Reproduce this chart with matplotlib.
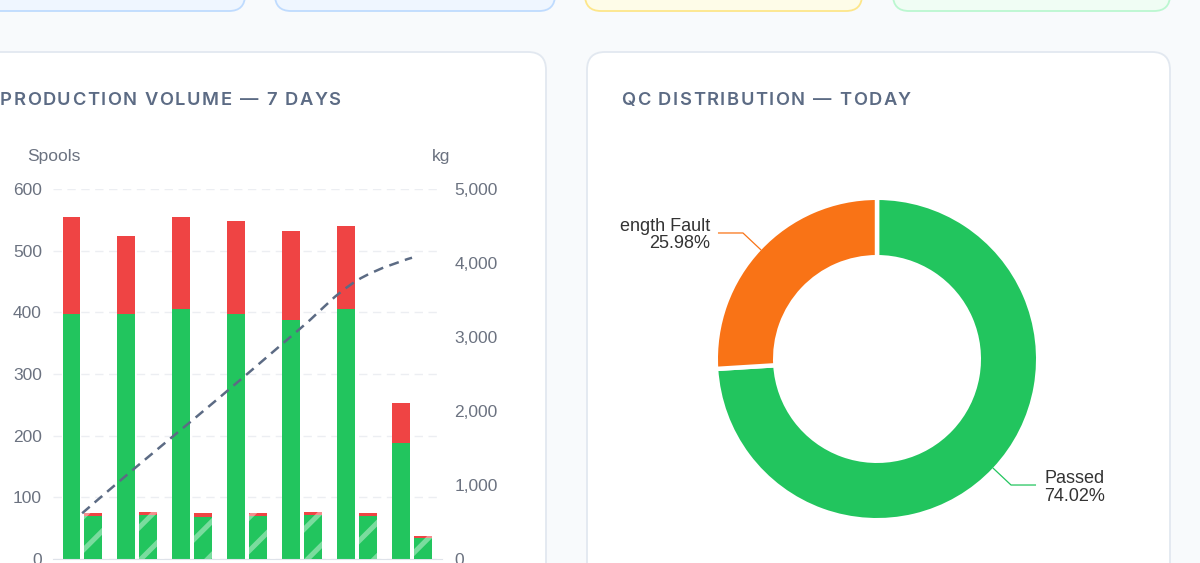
import numpy as np
import matplotlib
matplotlib.use("Agg")
from matplotlib import pyplot as plt
from matplotlib.patches import FancyBboxPatch, PathPatch
from matplotlib.path import Path

# data
days = ["Mon", "Tue", "Wed", "Thu", "Fri", "Sat", "Sun"]
passed_spools = [397, 397, 405, 397, 388, 405, 188]
failed_spools = [158, 127, 150, 151, 144, 135, 65]
passed_kg = [578, 596, 562, 580, 596, 586, 283]
failed_kg = [40, 40, 56, 47, 41, 42, 24]
spool_ticks = [0, 100, 200, 300, 400, 500, 600]
kg_ticks = [0, 1000, 2000, 3000, 4000, 5000]

qc_labels = ["Passed", "Length Fault"]
qc_share = [74.02, 25.98]

GREEN = "#22c55e"
RED = "#ef4444"
ORANGE = "#f97316"
SLATE = "#5c6b84"
TICK = "#6b7280"

W, H = 1200, 563
plt.rcParams["hatch.linewidth"] = 3.6

fig = plt.figure(figsize=(12, 5.63), dpi=100, facecolor="#f8fafc")


def fx(x):
    return x / W


def fy(y):
    return 1 - y / H


def px_axes(x0, y0, x1, y1, **kw):
    # axes from pixel box (top-left origin)
    return fig.add_axes([fx(x0), fy(y1), (x1 - x0) / W, (y1 - y0) / H], **kw)


# page background + cards
bg = fig.add_axes([0, 0, 1, 1], zorder=0)
bg.set_xlim(0, W)
bg.set_ylim(H, 0)
bg.axis("off")
top_cards = [(-40, 245, "#eff6ff", "#bfdbfe"), (275, 555, "#eff6ff", "#bfdbfe"),
             (585, 862, "#fefce8", "#fde68a"), (893, 1170, "#f0fdf4", "#bbf7d0")]
for x0, x1, fc, ec in top_cards:
    bg.add_patch(FancyBboxPatch((x0, -40), x1 - x0, 51, boxstyle="round,pad=0,rounding_size=16",
                                fc=fc, ec=ec, lw=1.3))
for x0, x1 in [(-34, 546), (587, 1170)]:
    bg.add_patch(FancyBboxPatch((x0, 52), x1 - x0, 600, boxstyle="round,pad=0,rounding_size=18",
                                fc="white", ec="#e2e8f0", lw=1.3))


def tracked(x, y, s, size=13.2, spacing=1.5, color=SLATE):
    r = fig.canvas.get_renderer()
    for ch in s:
        if ch == " ":
            x += size * 100 / 72 * 0.27 + spacing
            continue
        t = fig.text(fx(x), fy(y), ch, fontsize=size, color=color, family="Inter",
                     weight="semibold", ha="left", va="baseline")
        x += t.get_window_extent(r).width + spacing


tracked(0, 105, "PRODUCTION VOLUME — 7 DAYS")
tracked(621, 105, "QC DISTRIBUTION — TODAY")

# ---- production volume chart
ax = px_axes(53, 189, 442, 559, zorder=2)
ax2 = ax.twinx()
ax.set_facecolor("none")
ax2.set_facecolor("none")

x = np.arange(len(days))
bw = 0.32
stripe = (1, 1, 1, 0.4)
ax.bar(x - 0.197, passed_spools, bw, color=GREEN, zorder=2)
ax.bar(x - 0.197, failed_spools, bw, bottom=passed_spools, color=RED, zorder=2)
ax2.bar(x + 0.198, passed_kg, bw, color=GREEN, hatch="/", edgecolor=stripe, lw=0, zorder=2)
ax2.bar(x + 0.198, failed_kg, bw, bottom=passed_kg, color=RED, hatch="/",
        edgecolor=stripe, lw=0, zorder=2)

ax.set_xlim(-0.53, 6.545)
ax.set_ylim(0, 600)
ax2.set_ylim(0, 5000)
ax.set_xticks([])
ax.set_yticks(spool_ticks)
ax.set_yticklabels([str(v) for v in spool_ticks], family="Liberation Sans", fontsize=12.5, color=TICK)
ax2.set_yticks(kg_ticks)
ax2.set_yticklabels([f"{v:,}" for v in kg_ticks], family="Liberation Sans", fontsize=12.5, color=TICK)
ax.tick_params(length=0, pad=8)
ax2.tick_params(length=0, pad=9)
for a in (ax, ax2):
    for s in ("top", "left", "right"):
        a.spines[s].set_visible(False)
    a.spines["bottom"].set_color("#dfe3ea")
ax2.spines["bottom"].set_visible(False)
ax.yaxis.grid(True, color="#eceef2", lw=1, ls=(0, (6, 4)))
ax.set_axisbelow(True)

# cumulative kg, smoothed like the web chart (tension 0.4)
cum = np.cumsum(np.array(passed_kg) + np.array(failed_kg))
pts = ax2.transData.transform(np.column_stack([x, cum]))
n = len(pts)
cp_prev = pts.copy()
cp_next = pts.copy()
for i in range(1, n - 1):
    d01 = np.hypot(*(pts[i] - pts[i - 1]))
    d12 = np.hypot(*(pts[i + 1] - pts[i]))
    s01 = d01 / (d01 + d12)
    s12 = d12 / (d01 + d12)
    v = pts[i + 1] - pts[i - 1]
    cp_prev[i] = pts[i] - 0.4 * s01 * v
    cp_next[i] = pts[i] + 0.4 * s12 * v
verts = [pts[0]]
codes = [Path.MOVETO]
for i in range(n - 1):
    verts += [cp_next[i], cp_prev[i + 1], pts[i + 1]]
    codes += [Path.CURVE4] * 3
verts = ax2.transData.inverted().transform(np.array(verts))
ax2.add_patch(PathPatch(Path(verts, codes), fill=False, ec=SLATE, lw=1.8,
                        ls=(0, (4, 2.6)), zorder=4))

fig.text(fx(27), fy(160.5), "Spools", family="Liberation Sans", fontsize=12.5, color=TICK, va="baseline")
fig.text(fx(432), fy(160.5), "kg", family="Liberation Sans", fontsize=12.5, color=TICK, va="baseline")

# ---- QC donut
CX, CY, R, S = 877, 359, 159, 257
pax = px_axes(CX - S, CY - S, CX + S, CY + S, zorder=2)
lw_gap = 3.2
half = lw_gap / 72 * 100 / 2 / R
wedges, _ = pax.pie(qc_share, colors=[GREEN, ORANGE], startangle=90, counterclock=False,
                    radius=1 + half, wedgeprops=dict(width=(55 + 2 * half * R) / R, ec="white", lw=lw_gap))
pax.set_xlim(-S / R, S / R)
pax.set_ylim(-S / R, S / R)
pax.axis("off")

u = 1 / R
for w, lab, val, col in zip(wedges, qc_labels, qc_share, [GREEN, ORANGE]):
    mid = np.deg2rad((w.theta1 + w.theta2) / 2)
    c, s = np.cos(mid), np.sin(mid)
    p1 = np.array([c, s])
    p2 = np.array([c, s]) * 1.157
    side = 1 if c >= 0 else -1
    p3 = p2 + np.array([side * 25 * u, 0])
    pax.plot([p1[0], p2[0], p3[0]], [p1[1], p2[1], p3[1]], color=col, lw=0.9, solid_capstyle="butt")
    tx = p3[0] + side * 8 * u
    ha = "left" if side > 0 else "right"
    pax.text(tx, p3[1] + 2.4 * u, lab, ha=ha, va="baseline", fontsize=13, color="#333333",
             family="Liberation Sans", clip_on=True)
    pax.text(tx, p3[1] - 15.5 * u, f"{val:.2f}%", ha=ha, va="baseline", fontsize=13,
             color="#333333", family="Liberation Sans", clip_on=True)

fig.savefig("out.png", dpi=100, facecolor=fig.get_facecolor())
